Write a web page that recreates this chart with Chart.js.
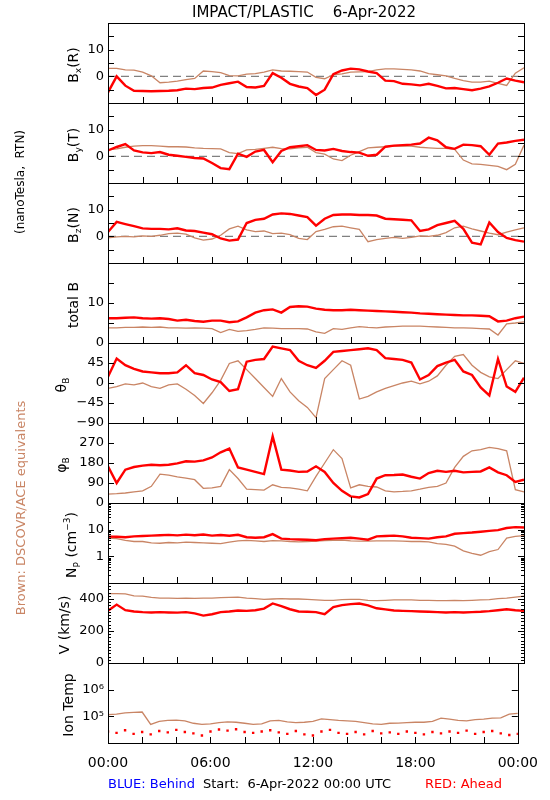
<!DOCTYPE html>
<html>
<head>
<meta charset="utf-8">
<script src="https://cdn.jsdelivr.net/npm/chart.js@4.4.1/dist/chart.umd.min.js"></script>
<style>
  body { margin: 0; background: #fff; }
  #page { position: relative; width: 550px; height: 800px; overflow: hidden; font-family: "DejaVu Sans", sans-serif; color: #000; }
  #page canvas { position: absolute; left: 0; }
  #labels { top: 0; z-index: 45; }
  .txt { position: absolute; white-space: nowrap; transform: translate(0, -50%); z-index: 40; }
  .rot { position: absolute; white-space: nowrap; transform: translate(-50%, -50%) rotate(-90deg); font-size: 14px; z-index: 40; }
  .rot sub, .rot sup { font-size: 9px; }
</style>
</head>
<body>
<div id="page">
  <div class="txt" style="left:304px;top:12px;transform:translate(-50%,-50%);font-size:15px">IMPACT/PLASTIC&nbsp;&nbsp;&nbsp;&nbsp;6-Apr-2022</div>
  <div class="rot" style="left:20px;top:182px;font-size:12px">(nanoTesla,&nbsp; RTN)</div>
  <div class="rot" style="left:20px;top:508px;font-size:13px;color:#c98565">Brown: DSCOVR/ACE equivalents</div>
  <div class="txt" style="left:108px;top:783px;font-size:13px;color:#0000ff">BLUE: Behind</div>
  <div class="txt" style="left:203px;top:783px;font-size:13px">Start:&nbsp; 6-Apr-2022 00:00 UTC</div>
  <div class="txt" style="right:48px;top:783px;font-size:13px;color:#ff0000">RED: Ahead</div>
</div>
<script>
// time of day in hours, 6-Apr-2022
const hours = [0,0.5,1,1.5,2,2.5,3,3.5,4,4.5,5,5.5,6,6.5,7,7.5,8,8.5,9,9.5,10,10.5,11,11.5,12,12.5,13,13.5,14,14.5,15,15.5,16,16.5,17,17.5,18,18.5,19,19.5,20,20.5,21,21.5,22,22.5,23,23.5,24];

// red = STEREO Ahead, brown = DSCOVR/ACE
const bxAhead  = [-6,0,-3.5,-5.4,-5.5,-5.6,-5.5,-5.4,-5.2,-4.6,-4.8,-4.4,-4.2,-3.2,-2.6,-2.0,-4.0,-4.2,-3.6,1.2,-0.5,-2.8,-3.8,-4.4,-7.0,-5.0,0.8,2.2,2.9,2.6,1.8,1.2,-1.6,-1.8,-2.8,-3.0,-3.4,-2.8,-3.6,-4.5,-4.4,-4.8,-5.2,-4.6,-3.8,-2.4,-0.8,-1.6,-2.2];
const bxDscovr = [3.0,3.0,2.4,2.3,1.6,0.2,-2.4,-2.2,-1.8,-1.2,-0.8,2.0,1.8,1.4,0.3,0.2,0.8,1.0,1.6,2.4,2.0,1.9,1.8,1.6,-0.4,-0.9,0.6,0.9,1.6,1.7,1.8,2.4,2.8,2.8,2.6,2.4,2.0,1.0,0.6,0.2,-0.8,-1.6,-2.2,-2.2,-1.8,-2.6,-3.4,1.2,3.2];
const byAhead  = [2.2,3.5,4.6,2.2,1.5,1.2,1.6,0.6,0.2,-0.2,-0.6,-0.8,-2.5,-4.4,-4.8,1.0,-0.2,1.8,2.4,-2.2,2.0,3.4,3.8,4.2,2.4,2.2,2.8,2.0,1.6,1.4,0.2,0.6,3.6,4.0,4.2,4.4,4.8,7.0,6.0,3.4,2.8,4.4,4.2,3.8,0.6,4.8,5.2,5.8,6.2];
const byDscovr = [2.4,2.8,3.4,3.8,4.0,4.0,3.8,3.6,3.6,3.5,3.2,3.0,2.9,2.8,1.4,1.0,2.4,2.6,3.0,3.4,2.9,2.8,3.2,3.4,1.4,0.8,-1.0,-1.6,0.4,1.8,3.2,3.4,3.6,3.8,3.8,3.8,3.4,3.2,3.0,3.0,2.6,-1.4,-2.8,-3.0,-3.4,-3.8,-5.0,-3.0,4.2];
const bzAhead  = [1.6,5.4,4.6,3.8,3.0,2.8,2.8,2.6,3.0,2.2,2.0,1.4,0.8,-0.8,-1.6,-1.2,5.0,6.2,6.6,8.2,8.6,8.4,7.8,7.2,4.0,6.6,8.0,8.2,8.2,8.0,8.0,7.8,6.6,6.4,6.2,6.0,2.0,2.6,4.2,5.0,5.8,2.8,-2.4,-3.0,5.2,1.6,-0.6,-1.4,-2.0];
const bzDscovr = [-0.6,-0.2,0,-0.2,0.2,0,0.4,1.0,1.2,0.8,-0.6,-1.4,-1.0,0.4,2.8,3.8,2.4,1.8,2.0,1.0,1.2,0.6,-0.8,-1.2,1.8,2.6,3.6,3.8,3.2,2.6,-2.0,-1.2,-0.8,-0.4,-0.8,-0.4,0.2,0,0.4,1.4,3.2,3.8,2.8,2.0,1.2,0.6,1.6,2.4,3.2];
const btAhead  = [6.2,6.2,6.3,6.4,6.2,6.1,6.2,6.0,5.6,5.8,5.5,5.3,5.6,5.6,5.2,5.4,6.4,7.6,8.2,8.4,7.6,9.0,9.2,9.1,8.6,8.3,8.2,8.2,8.3,8.2,8.1,8.0,7.9,7.8,7.7,7.6,7.4,7.3,7.2,7.1,7.0,6.9,6.9,6.8,6.7,5.4,5.6,6.2,6.6];
const btDscovr = [3.8,3.8,3.9,3.9,4.0,3.9,4.0,3.8,3.8,3.7,3.8,3.7,3.6,2.6,3.4,2.9,3.1,3.4,3.8,3.7,3.6,3.6,3.6,3.5,2.8,2.4,3.6,3.4,3.8,4.1,3.9,3.8,4.0,4.1,4.2,4.2,4.2,4.1,4.0,3.9,3.8,3.8,3.7,3.6,3.5,2.0,4.8,5.0,5.3];
const thAhead  = [14,55,40,32,26,24,22,22,24,40,22,18,8,2,-18,-14,48,52,54,82,78,74,50,40,34,50,70,72,74,76,78,74,56,54,52,46,8,18,38,46,52,26,18,-10,-28,54,-8,-20,12];
const thDscovr = [-12,-8,-2,-4,0,-8,-12,-4,-2,-14,-28,-46,-22,6,44,50,30,10,-10,-30,10,-20,-40,-55,-78,10,30,50,40,-36,-30,-20,-12,-6,0,4,-2,4,16,40,60,64,40,24,14,10,30,50,44];
const phAhead  = [165,90,150,162,168,172,170,172,178,188,186,192,205,228,245,160,150,140,130,300,150,146,140,142,165,140,90,55,30,25,40,110,125,126,128,118,110,135,145,140,145,138,140,142,160,138,125,95,105];
const phDscovr = [40,42,45,50,55,75,130,125,118,112,105,66,68,75,150,110,62,60,58,82,70,68,62,55,120,180,240,200,68,82,75,72,55,50,52,55,62,70,75,90,160,210,235,240,250,245,235,60,50];
const npAhead  = [5.5,5.4,5.2,5.6,5.8,6.0,6.2,6.4,6.1,6.5,6.2,6.6,6.0,6.3,5.9,6.4,5.2,5.0,5.2,6.8,4.6,4.4,4.3,4.2,4.0,4.4,4.6,4.8,5.0,4.6,4.2,5.6,5.8,6.0,5.6,5.0,4.8,4.6,5.2,5.6,7.0,7.4,7.8,8.4,9.0,9.6,11.5,12.5,12.0];
const npDscovr = [4.8,4.6,4.0,3.6,3.6,3.2,3.1,3.3,3.2,3.4,3.3,3.2,3.1,3.0,3.4,3.8,4.0,3.8,3.6,3.9,3.8,3.6,3.5,3.6,3.7,3.9,4.0,4.1,3.8,3.7,3.7,3.8,3.8,3.8,3.7,3.6,3.6,3.5,3.0,2.8,2.4,1.6,1.3,1.1,1.5,1.8,4.8,5.6,6.0];
const vAhead   = [326,365,330,322,318,316,318,316,315,318,310,296,305,318,322,328,326,330,340,372,355,336,322,320,318,305,350,362,368,372,360,342,335,328,326,324,322,320,318,316,318,316,318,320,324,330,336,330,326];
const vDscovr  = [434,434,432,420,418,410,406,405,404,406,404,405,405,408,410,412,406,402,398,400,402,400,400,398,395,392,392,396,398,398,392,390,392,394,394,394,392,392,390,390,392,390,392,394,396,402,406,412,418];
const tAhead   = [27000,24000,30000,22000,26000,21000,28000,25000,31000,26000,23000,19000,27000,32000,29000,33000,26000,24000,27000,30000,25000,22000,28000,21000,19000,27000,31000,24000,22000,26000,21000,28000,23000,25000,22000,27000,24000,21000,26000,23000,27000,24000,29000,22000,26000,28000,23000,20000,22000];
const tDscovr  = [115000,120000,135000,140000,145000,50000,65000,70000,72000,68000,55000,50000,52000,58000,62000,60000,55000,50000,52000,68000,70000,62000,58000,60000,65000,80000,75000,70000,68000,65000,58000,52000,50000,55000,56000,58000,60000,60000,65000,85000,78000,70000,68000,75000,78000,85000,88000,120000,130000];

// axis ticks and labels
const xTickHours = [0,2,4,6,8,10,12,14,16,18,20,22,24];
const xLabelHours = [0,6,12,18,24];
const xLabelText = ['00:00','06:00','12:00','18:00','00:00'];
const fieldTicks = [-5,0,5,10,15];
const fieldLabelVals = [0,10];
const btTicks = [5,10,15];
const btLabelVals = [0,10];
const thTicks = [-45,0,45];
const thLabelVals = [45,0,-45,-90];
const phTicks = [90,180,270];
const phLabelVals = [0,90,180,270];
const npTicks = [1,10];
const npMinor = [0.2,0.3,0.4,0.5,0.6,0.7,0.8,0.9,2,3,4,5,6,7,8,9,20,30,40,50,60,70,80,90];
const npLabelVals = [1,10];
const vTicks = [200,400];
const vMinor = [];
for (let v = 20; v < 500; v += 20) if (v !== 200 && v !== 400) vMinor.push(v);
const vLabelVals = [0,200,400];
const tTicks = [1e5,1e6];
const tLabelVals = [1e5,1e6];
const tLabelText = ['10\u2075','10\u2076'];
const zeroLine = [0,0];
const zeroHours = [0,24];

const BROWN = '#c98565', RED = '#ff0000';
const TOP0 = 23, PH = 80, M = 12, XH = 30;

const panels = [
  { title: 'B<sub>x</sub>(R)', tx: 74, red: bxAhead, brown: bxDscovr, min: -10, max: 20, ticks: fieldTicks, labels: fieldLabelVals, zero: true },
  { title: 'B<sub>y</sub>(T)', tx: 74, red: byAhead, brown: byDscovr, min: -10, max: 20, ticks: fieldTicks, labels: fieldLabelVals, zero: true },
  { title: 'B<sub>z</sub>(N)', tx: 74, red: bzAhead, brown: bzDscovr, min: -10, max: 20, ticks: fieldTicks, labels: fieldLabelVals, zero: true },
  { title: 'total B', tx: 73, red: btAhead, brown: btDscovr, min: 0, max: 20, ticks: btTicks, labels: btLabelVals },
  { title: '&theta;<sub>B</sub>', tx: 62, red: thAhead, brown: thDscovr, min: -90, max: 90, ticks: thTicks, labels: thLabelVals },
  { title: '&phi;<sub>B</sub>', tx: 62, red: phAhead, brown: phDscovr, min: 0, max: 360, ticks: phTicks, labels: phLabelVals },
  { title: 'N<sub>P</sub> (cm<sup>&minus;3</sup>)', tx: 72, red: npAhead, brown: npDscovr, min: 0.1, max: 100, log: true, ticks: npTicks, minor: npMinor, labels: npLabelVals },
  { title: 'V (km/s)', tx: 64, red: vAhead, brown: vDscovr, min: 0, max: 500, ticks: vTicks, minor: vMinor, labels: vLabelVals },
  { title: 'Ion Temp', tx: 68, red: tAhead, brown: tDscovr, min: 1e4, max: 1e7, log: true, ticks: tTicks, labels: tLabelVals, labelText: tLabelText, dots: true }
];

Chart.defaults.font.family = '"DejaVu Sans", sans-serif';
Chart.defaults.font.size = 13;
Chart.defaults.color = '#000';

// box and inward ticks, placed through the chart's own scales
function frame(p) {
  return {
    id: 'frame',
    afterDatasetsDraw(chart) {
      const { ctx, chartArea: a, scales: { x, y } } = chart;
      ctx.save();
      ctx.strokeStyle = '#000';
      ctx.lineWidth = 1;
      ctx.beginPath();
      const yMark = (v, len) => {
        const py = Math.round(y.getPixelForValue(v)) + 0.5;
        ctx.moveTo(a.left, py); ctx.lineTo(a.left + len, py);
        ctx.moveTo(a.right, py); ctx.lineTo(a.right - len, py);
      };
      p.ticks.forEach(v => yMark(v, 6));
      (p.minor || []).forEach(v => yMark(v, 3));
      xTickHours.forEach(h => {
        const px = Math.round(x.getPixelForValue(h)) + 0.5;
        ctx.moveTo(px, a.bottom); ctx.lineTo(px, a.bottom - 6);
      });
      ctx.stroke();
      ctx.strokeRect(Math.round(a.left) + 0.5, Math.round(a.top) + 0.5, Math.round(a.width), Math.round(a.height));
      ctx.restore();
    }
  };
}

const page = document.getElementById('page');
const yLabels = [];

panels.forEach((p, k) => {
  const last = k === panels.length - 1;
  const top = TOP0 + PH * k;
  const cvTop = top - M;
  const h = last ? 800 - cvTop : PH + 2 * M;
  const padBottom = last ? h - M - PH - XH : M;

  const cv = document.createElement('canvas');
  cv.width = 550; cv.height = h;
  cv.style.top = cvTop + 'px';
  page.appendChild(cv);

  const ttl = document.createElement('div');
  ttl.className = 'rot';
  ttl.style.left = p.tx + 'px';
  ttl.style.top = (top + PH / 2 + 2) + 'px';
  ttl.innerHTML = p.title;
  page.appendChild(ttl);

  const datasets = [
    p.dots
      ? { data: hours.map((t, i) => ({ x: t, y: p.red[i] })), showLine: false, pointStyle: 'rect', pointRadius: 1.7, pointBackgroundColor: RED, pointBorderWidth: 0 }
      : { data: hours.map((t, i) => ({ x: t, y: p.red[i] })), borderColor: RED, borderWidth: 2.4, pointRadius: 0 },
    { data: hours.map((t, i) => ({ x: t, y: p.brown[i] })), borderColor: BROWN, borderWidth: 1.3, pointRadius: 0 }
  ];
  if (p.zero) {
    datasets.push({ data: zeroHours.map((t, i) => ({ x: t, y: zeroLine[i] })), borderColor: '#808080', borderWidth: 1.3, borderDash: [8, 5], pointRadius: 0 });
  }

  const chart = new Chart(cv, {
    type: 'line',
    data: { datasets },
    options: {
      responsive: false,
      animation: false,
      layout: { padding: { top: M, bottom: padBottom, left: 0, right: 26 } },
      plugins: { legend: { display: false }, tooltip: { enabled: false } },
      elements: { line: { tension: 0 } },
      scales: {
        x: {
          type: 'linear', min: 0, max: 24, display: last,
          afterFit: s => { s.height = last ? XH : 0; },
          afterBuildTicks: s => { s.ticks = xLabelHours.map(v => ({ value: v })); },
          grid: { display: false, drawTicks: false },
          border: { display: false },
          ticks: { autoSkip: false, maxRotation: 0, padding: 12, font: { size: 14 },
            callback: v => xLabelText[xLabelHours.indexOf(v)] }
        },
        y: {
          type: p.log ? 'logarithmic' : 'linear', min: p.min, max: p.max,
          afterFit: s => { s.width = 108; },
          afterBuildTicks: s => { s.ticks = p.labels.map(v => ({ value: v })); },
          grid: { display: false, drawTicks: false },
          border: { display: false },
          ticks: { display: false }
        }
      }
    },
    plugins: [frame(p)]
  });

  // remember y tick labels at the page pixel the y scale gives
  const ys = chart.scales.y;
  p.labels.forEach((v, i) => {
    yLabels.push({
      text: p.labelText ? p.labelText[i] : String(v).replace('-', '\u2212'),
      x: chart.chartArea.left - 4,
      y: cvTop + ys.getPixelForValue(v)
    });
  });
});

// one overlay canvas on top of all panels for the y tick labels
const ov = document.createElement('canvas');
ov.id = 'labels';
ov.width = 550; ov.height = 800;
page.appendChild(ov);
const octx = ov.getContext('2d');
octx.fillStyle = '#000';
octx.font = '13px "DejaVu Sans", sans-serif';
octx.textAlign = 'right';
octx.textBaseline = 'middle';
yLabels.forEach(l => octx.fillText(l.text, l.x, l.y));
</script>
</body>
</html>
